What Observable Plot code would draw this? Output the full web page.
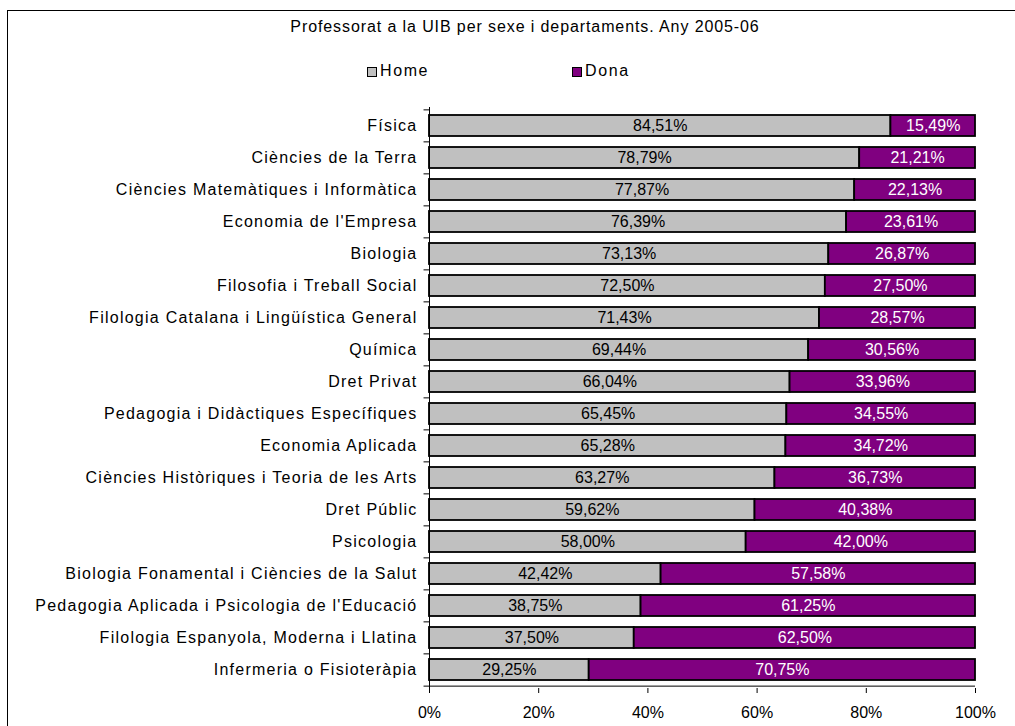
<!DOCTYPE html>
<html><head><meta charset="utf-8">
<script src="https://cdn.jsdelivr.net/npm/d3@7"></script>
<script src="https://cdn.jsdelivr.net/npm/@observablehq/plot@0.6"></script>
<style>
body{margin:0;background:#fff;font-family:"Liberation Sans",Arial,sans-serif;}
#wrap{position:relative;width:1015px;height:726px;overflow:hidden;background:#fff;}
#border{position:absolute;left:7px;top:10px;width:1100px;height:800px;border-left:1px solid #000;border-top:1px solid #000;}
#title{position:absolute;top:18px;left:0;width:1050px;text-align:center;font-size:16px;letter-spacing:0.9px;color:#000;}
.sw{position:absolute;width:8px;height:8px;border:1px solid #000;}
.lt{position:absolute;font-size:16px;letter-spacing:1.6px;color:#000;}
#chart{position:absolute;left:0;top:0;}
#chart g[aria-label="y-axis tick label"] text{letter-spacing:1.25px;}
</style></head>
<body>
<div id="wrap">
<div id="border"></div>
<div id="chart"></div>
<div id="title">Professorat a la UIB per sexe i departaments. Any 2005-06</div>
<div class="sw" style="left:367px;top:67px;background:#C0C0C0"></div>
<div class="lt" style="left:380px;top:62px">Home</div>
<div class="sw" style="left:572px;top:67px;background:#800080"></div>
<div class="lt" style="left:585px;top:62px">Dona</div>
</div>
<script>
const departaments = [
  "Física",
  "Ciències de la Terra",
  "Ciències Matemàtiques i Informàtica",
  "Economia de l'Empresa",
  "Biologia",
  "Filosofia i Treball Social",
  "Filologia Catalana i Lingüística General",
  "Química",
  "Dret Privat",
  "Pedagogia i Didàctiques Específiques",
  "Economia Aplicada",
  "Ciències Històriques i Teoria de les Arts",
  "Dret Públic",
  "Psicologia",
  "Biologia Fonamental i Ciències de la Salut",
  "Pedagogia Aplicada i Psicologia de l'Educació",
  "Filologia Espanyola, Moderna i Llatina",
  "Infermeria o Fisioteràpia"
];
const home = [84.51,78.79,77.87,76.39,73.13,72.50,71.43,69.44,66.04,65.45,65.28,63.27,59.62,58.00,42.42,38.75,37.50,29.25];
const dona = [15.49,21.21,22.13,23.61,26.87,27.50,28.57,30.56,33.96,34.55,34.72,36.73,40.38,42.00,57.58,61.25,62.50,70.75];
const xTicks = [0,20,40,60,80,100];
const series = ["Home","Dona"];
const colors = ["#C0C0C0","#800080"];
const textColors = ["#000000","#FFFFFF"];

const rows = [];
departaments.forEach((d,i)=>{
  rows.push({dept:d, sexe:"Home", x1:0, x2:home[i], v:home[i]});
  rows.push({dept:d, sexe:"Dona", x1:home[i], x2:home[i]+dona[i], v:dona[i]});
});
const fmt = v => v.toFixed(2).replace(".",",") + "%";

const W=1015, H=726, mT=107, mB=38, mL=429, mR=40;
const step = (H-mT-mB)/departaments.length;

const chart = Plot.plot({
  width:W, height:H,
  marginTop:mT, marginBottom:mB, marginLeft:mL, marginRight:mR,
  style:{fontFamily:"'Liberation Sans', Arial, sans-serif", fontSize:"16px", background:"transparent", color:"#000"},
  x:{domain:[0,100], ticks:xTicks, tickFormat:d=>d+"%", tickSize:5, tickPadding:13, label:null},
  y:{domain:departaments, paddingInner:0.33, paddingOuter:0.165, tickSize:0, tickPadding:12, label:null},
  color:{domain:series, range:colors},
  marks:[
    Plot.barX(rows,{y:"dept", x1:"x1", x2:"x2", fill:"sexe", stroke:"#000", strokeWidth:1.8}),
    Plot.text(rows,{y:"dept", x:d=>(d.x1+d.x2)/2, text:d=>fmt(d.v), fill:d=>textColors[series.indexOf(d.sexe)], fontSize:16}),
    Plot.ruleX([0],{stroke:"#000"}),
    Plot.ruleY(departaments,{y:d=>d, x1:-1, x2:0, dy:-step/2, stroke:"#000"}),
    Plot.ruleY([departaments[departaments.length-1]],{y:d=>d, x1:-1, x2:100, dy:step/2, stroke:"#000"})
  ]
});
document.getElementById("chart").appendChild(chart);
</script>
</body></html>
